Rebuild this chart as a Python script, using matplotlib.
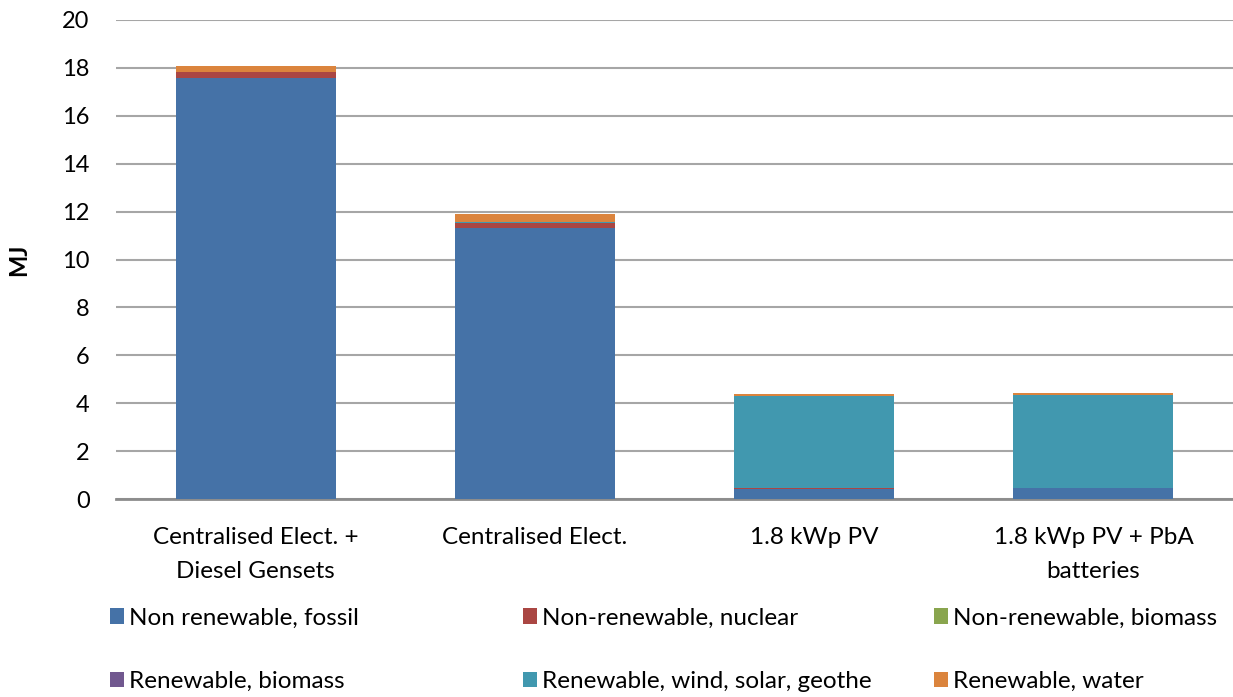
import matplotlib
matplotlib.use("Agg")
import matplotlib.pyplot as plt
import numpy as np
from matplotlib.patches import Patch

plt.rcParams['font.family'] = ['Lato', 'DejaVu Sans']

categories = ["Centralised Elect. +\nDiesel Gensets", "Centralised Elect.",
              "1.8 kWp PV", "1.8 kWp PV + PbA\nbatteries"]
series_names = ["Non renewable, fossil", "Non-renewable, nuclear", "Non-renewable, biomass",
                "Renewable, biomass", "Renewable, wind, solar, geothe", "Renewable, water"]
fossil = [17.58, 11.32, 0.42, 0.44]
nuclear = [0.25, 0.21, 0.02, 0.02]
nr_biomass = [0.0, 0.0, 0.0, 0.0]
r_biomass = [0.01, 0.01, 0.02, 0.02]
wind_solar = [0.0, 0.02, 3.84, 3.88]
water = [0.24, 0.34, 0.10, 0.08]
colors = ["#4572A7", "#AA4643", "#89A54E", "#71588F", "#4198AF", "#DB843D"]

fig = plt.figure(figsize=(12.33, 6.97), dpi=100)
ax = fig.add_axes([116 / 1233, 198 / 697, 1117 / 1233, 479 / 697])

x = np.arange(len(categories))
bottom = np.zeros(len(categories))
for vals, c in zip([fossil, nuclear, nr_biomass, r_biomass, wind_solar, water], colors):
    ax.bar(x, vals, width=0.573, bottom=bottom, color=c, zorder=3)
    bottom += np.array(vals)

ax.set_xlim(-0.5, 3.5)
ax.set_ylim(0, 20)
ax.set_yticks(range(0, 21, 2))
ax.yaxis.grid(True, color="#a6a6a6", linewidth=1.5, zorder=0)
ax.set_axisbelow(True)
for s in ["top", "right", "left"]:
    ax.spines[s].set_visible(False)
ax.spines["bottom"].set_color("#8c8c8c")
ax.spines["bottom"].set_linewidth(2)
ax.tick_params(axis="y", length=0, pad=19, labelsize=17)
ax.tick_params(axis="x", length=0, pad=20, labelsize=17.5)
ax.set_xticks(x)
ax.set_xticklabels(categories, linespacing=1.75)
ax.set_ylabel("MJ", fontsize=17, fontweight="bold")
ax.yaxis.set_label_coords(-86 / 1117, 0.5)

# legend, three columns of two entries
handles = [Patch(facecolor=c) for c in colors]
col_x = [100 / 1233, 513 / 1233, 924 / 1233]
for i in range(3):
    fig.legend([handles[i], handles[i + 3]], [series_names[i], series_names[i + 3]],
               loc="upper left", bbox_to_anchor=(col_x[i], 99 / 697),
               frameon=False, fontsize=17.5, handlelength=0.6, handleheight=0.6,
               handletextpad=0.2, labelspacing=1.75, borderaxespad=0)

fig.savefig("out.png", dpi=100)
